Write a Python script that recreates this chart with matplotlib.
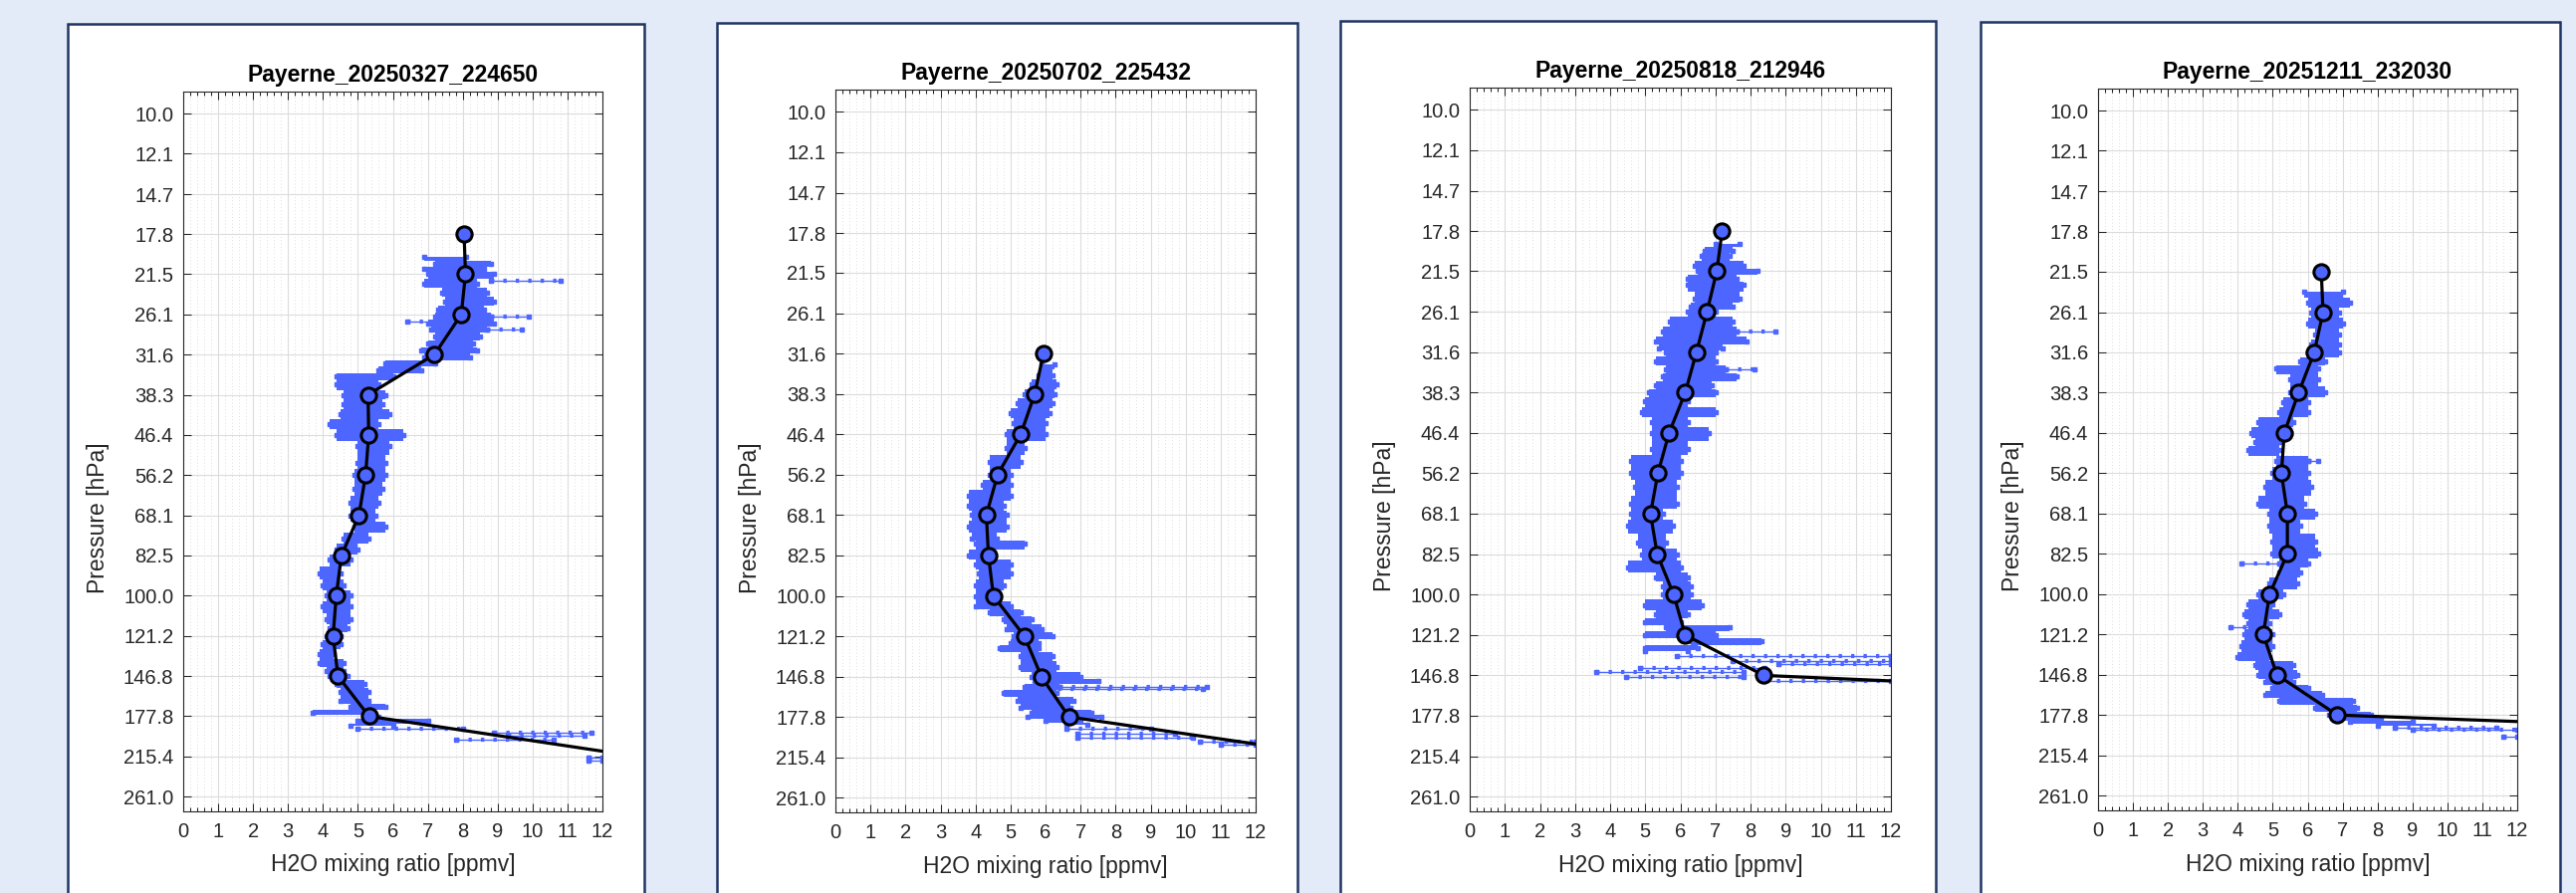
import matplotlib.pyplot as plt
import matplotlib.ticker as mticker
from matplotlib.patches import Rectangle

plt.rcParams['font.family'] = ['Liberation Sans', 'DejaVu Sans']

W, H = 2587, 897
BLUE = '#4D66FF'
INK = '#262626'

titles = ['Payerne_20250327_224650', 'Payerne_20250702_225432',
          'Payerne_20250818_212946', 'Payerne_20251211_232030']
p_ticks = [10.0, 12.1, 14.7, 17.8, 21.5, 26.1, 31.6, 38.3, 46.4, 56.2,
           68.1, 82.5, 100.0, 121.2, 146.8, 177.8, 215.4, 261.0]
x_ticks = [0, 1, 2, 3, 4, 5, 6, 7, 8, 9, 10, 11, 12]

# ---- panel 1 : 2025-03-27 ----
p1_band_p = [19.8, 20.5, 21.0, 21.5, 22.5, 23.5, 24.5, 25.5, 26.3, 27.2, 28.0, 29.0,
             30.0, 31.0, 32.0, 33.0, 34.0, 35.0, 36.5, 38.3, 40.0, 42.0, 44.0, 46.4,
             49.0, 53.0, 56.2, 60.0, 64.0, 68.1, 72.0, 76.0, 80.0, 84.0, 90.0, 95.0,
             100.0, 105.0, 112.0, 117.0, 121.2, 126.0, 132.0, 138.0, 143.0, 146.8,
             152.0, 158.0, 165.0, 170.0, 174.5, 178.5, 182.0, 186.0]
p1_band_lo = [6.9, 7.2, 6.9, 7.0, 6.9, 7.4, 7.5, 7.3, 7.2, 7.0, 7.1, 7.2,
              7.0, 6.8, 6.9, 5.8, 5.6, 4.4, 4.4, 4.6, 4.6, 4.5, 4.2, 4.4,
              5.0, 5.0, 4.9, 4.9, 4.8, 4.8, 4.9, 4.6, 4.4, 4.2, 3.9, 4.0,
              4.1, 4.0, 4.1, 4.2, 4.1, 4.0, 3.9, 3.9, 4.1, 4.2,
              4.4, 4.5, 4.5, 4.8, 3.7, 5.2, 5.0, 4.8]
p1_band_hi = [8.1, 8.8, 8.6, 8.9, 8.4, 8.7, 8.9, 8.6, 8.8, 8.9, 8.7, 8.5,
              8.3, 8.4, 8.2, 7.2, 6.8, 6.0, 5.6, 5.8, 5.7, 5.9, 5.6, 6.3,
              5.9, 5.8, 5.8, 5.7, 5.6, 5.5, 5.8, 5.3, 5.0, 4.8, 4.5, 4.6,
              4.8, 4.8, 4.8, 4.7, 4.5, 4.5, 4.3, 4.6, 4.6, 4.7,
              5.2, 5.3, 5.3, 5.8, 5.3, 5.6, 7.0, 6.0]
p1_streak_p = [22.2, 26.4, 27.0, 28.0, 189.0, 192.0, 195.0, 199.0, 217.0, 220.0]
p1_streak_lo = [8.8, 8.8, 6.4, 8.7, 5.0, 8.9, 9.3, 7.8, 11.6, 11.6]
p1_streak_hi = [10.8, 9.9, 7.2, 9.7, 8.0, 11.7, 11.5, 10.6, 12.0, 12.0]
p1_bin_p = [17.8, 21.5, 26.1, 31.6, 38.3, 46.4, 56.2, 68.1, 82.5, 100.0, 121.2, 146.8, 177.8, 215.4]
p1_bin_x = [8.04, 8.08, 7.96, 7.19, 5.29, 5.31, 5.22, 5.03, 4.53, 4.38, 4.29, 4.43, 5.32, 13.0]

# ---- panel 2 : 2025-07-02 ----
p2_band_p = [33.2, 35.0, 36.5, 38.3, 40.0, 42.0, 44.0, 46.4, 49.5, 53.0, 56.2, 59.0,
             62.0, 65.0, 68.1, 72.0, 76.0, 78.0, 82.5, 86.0, 90.0, 95.0, 100.0, 105.0,
             108.0, 112.0, 117.0, 121.2, 125.0, 128.0, 133.0, 140.0, 146.8, 150.0,
             154.0, 159.0, 165.0, 170.0, 174.0, 177.8, 181.0, 185.0]
p2_band_lo = [5.9, 5.8, 5.6, 5.4, 5.2, 5.0, 5.1, 4.9, 4.9, 4.4, 4.4, 4.2,
              3.8, 3.8, 3.9, 3.8, 3.9, 4.0, 3.8, 4.0, 4.1, 4.0, 4.0, 4.0,
              4.4, 4.8, 4.9, 5.1, 5.0, 4.7, 5.3, 5.3, 5.6, 5.7,
              5.4, 4.8, 5.2, 5.3, 5.6, 5.5, 6.0, 6.6]
p2_band_hi = [6.25, 6.2, 6.3, 6.25, 6.2, 6.1, 6.0, 6.0, 5.4, 5.3, 5.0, 5.0,
              5.0, 4.8, 4.9, 4.9, 4.6, 5.4, 4.5, 5.0, 5.0, 4.8, 4.6, 5.0,
              5.3, 5.6, 5.9, 6.2, 5.8, 5.8, 6.2, 6.3, 7.0, 7.5,
              6.4, 6.3, 6.8, 6.7, 7.3, 7.6, 7.0, 7.2]
p2_streak_p = [154.0, 156.0, 188.0, 193.0, 196.0, 200.0, 203.0]
p2_streak_lo = [6.4, 6.0, 6.6, 6.9, 6.9, 10.4, 11.0]
p2_streak_hi = [10.6, 10.5, 9.0, 9.7, 10.2, 12.0, 12.0]
p2_bin_p = [31.6, 38.3, 46.4, 56.2, 68.1, 82.5, 100.0, 121.2, 146.8, 177.8, 215.4]
p2_bin_x = [5.94, 5.69, 5.29, 4.63, 4.31, 4.37, 4.51, 5.40, 5.88, 6.67, 14.6]

# ---- panel 3 : 2025-08-18 ----
p3_band_p = [18.9, 19.5, 20.0, 21.0, 21.5, 22.3, 23.0, 24.5, 25.5, 26.1, 27.3, 28.7,
             30.0, 31.0, 31.6, 33.0, 34.3, 35.5, 37.0, 38.3, 40.0, 42.0, 44.0, 46.4,
             50.0, 53.0, 56.2, 60.0, 65.0, 68.1, 72.0, 78.0, 82.5, 88.0, 92.0, 96.0,
             100.0, 105.0, 110.0, 114.0, 117.0, 121.2, 125.0, 129.0, 131.0]
p3_band_lo = [7.0, 6.7, 6.6, 6.4, 6.5, 6.2, 6.2, 6.4, 6.3, 6.2, 5.7, 5.5,
              5.3, 5.4, 5.6, 5.3, 5.6, 5.5, 5.3, 5.1, 5.0, 4.9, 5.2, 5.2,
              5.2, 4.6, 4.6, 4.7, 4.6, 4.6, 4.5, 4.8, 4.9, 4.5, 5.3, 5.5,
              5.5, 5.0, 5.3, 5.0, 5.6, 5.0, 6.3, 5.0, 5.0]
p3_band_hi = [7.7, 7.5, 7.4, 7.8, 8.2, 7.6, 7.8, 7.7, 7.5, 7.0, 7.5, 7.6,
              7.9, 7.2, 7.0, 7.0, 7.3, 7.6, 6.9, 7.0, 6.2, 7.0, 6.2, 6.8,
              6.2, 6.0, 6.0, 5.9, 5.9, 5.5, 5.8, 5.6, 5.9, 6.0, 6.2, 6.3,
              6.3, 6.6, 6.2, 6.0, 7.4, 7.0, 8.3, 6.5, 6.2]
p3_streak_p = [28.7, 34.3, 134.0, 137.0, 139.0, 142.0, 144.5, 148.0, 150.5]
p3_streak_lo = [7.6, 7.3, 5.9, 7.5, 8.8, 4.85, 3.6, 4.45, 8.4]
p3_streak_hi = [8.7, 8.1, 12.0, 12.0, 12.0, 8.4, 7.8, 7.8, 12.0]
p3_bin_p = [17.8, 21.5, 26.1, 31.6, 38.3, 46.4, 56.2, 68.1, 82.5, 100.0, 121.2, 146.8, 177.8]
p3_bin_x = [7.19, 7.04, 6.76, 6.46, 6.14, 5.68, 5.36, 5.15, 5.34, 5.81, 6.14, 8.38, 35.0]

# ---- panel 4 : 2025-12-11 ----
p4_band_p = [23.7, 25.0, 26.1, 27.5, 29.0, 30.5, 31.6, 33.0, 34.1, 36.0, 38.3, 40.0,
             42.0, 44.0, 46.4, 48.5, 50.4, 53.0, 56.2, 60.0, 65.0, 68.1, 72.0, 78.0,
             82.5, 86.3, 90.0, 95.0, 100.0, 105.0, 110.0, 115.0, 120.8, 128.0, 135.0,
             140.0, 146.8, 152.0, 156.0, 161.5, 166.0, 172.0, 177.8, 181.0, 184.0, 187.0]
p4_band_lo = [5.9, 6.0, 6.1, 6.0, 6.2, 6.1, 6.0, 5.8, 5.1, 5.5, 5.5, 5.3,
              5.2, 4.6, 4.4, 4.5, 4.3, 5.1, 5.0, 4.8, 4.6, 4.9, 4.9, 5.0,
              5.0, 5.2, 5.2, 4.9, 4.6, 4.3, 4.2, 4.3, 4.2, 4.1, 4.0,
              4.5, 4.6, 4.8, 5.0, 4.8, 5.2, 6.2, 6.6, 6.8, 7.2, 8.0]
p4_band_hi = [7.0, 7.2, 6.9, 7.0, 6.9, 6.9, 6.9, 6.5, 6.3, 6.3, 6.5, 6.0,
              6.0, 5.6, 5.5, 5.2, 5.2, 6.0, 6.0, 6.1, 5.9, 6.2, 5.8, 6.2,
              6.3, 6.0, 5.8, 5.7, 5.3, 5.0, 5.2, 4.9, 5.0, 5.0, 4.9,
              5.6, 5.7, 5.6, 6.0, 6.4, 7.3, 7.4, 7.8, 8.1, 9.0, 9.6]
p4_streak_p = [53.0, 86.3, 117.0, 189.0, 191.0, 197.0]
p4_streak_lo = [6.0, 4.1, 3.8, 8.5, 9.0, 11.6]
p4_streak_hi = [6.3, 5.2, 4.6, 11.4, 12.0, 12.0]
p4_bin_p = [21.5, 26.1, 31.6, 38.3, 46.4, 56.2, 68.1, 82.5, 100.0, 121.2, 146.8, 177.8, 215.4]
p4_bin_x = [6.39, 6.44, 6.19, 5.74, 5.33, 5.25, 5.42, 5.42, 4.91, 4.73, 5.12, 6.85, 38.7]

panels = [
    (p1_band_p, p1_band_lo, p1_band_hi, p1_streak_p, p1_streak_lo, p1_streak_hi, p1_bin_p, p1_bin_x),
    (p2_band_p, p2_band_lo, p2_band_hi, p2_streak_p, p2_streak_lo, p2_streak_hi, p2_bin_p, p2_bin_x),
    (p3_band_p, p3_band_lo, p3_band_hi, p3_streak_p, p3_streak_lo, p3_streak_hi, p3_bin_p, p3_bin_x),
    (p4_band_p, p4_band_lo, p4_band_hi, p4_streak_p, p4_streak_lo, p4_streak_hi, p4_bin_p, p4_bin_x),
]

# card (left, top, right) and axes (left, top, right, bottom) in pixels
cards = [(68, 24, 647), (720, 23, 1303), (1346, 21, 1944), (1989, 22, 2571)]
boxes = [(184, 92, 605, 815), (839, 90, 1261, 816), (1476, 88, 1899, 815), (2107, 89, 2528, 814)]

fig = plt.figure(figsize=(W / 100, H / 100), dpi=100, facecolor='#E4EBF8')

for (cl, ct, cr) in cards:
    fig.add_artist(Rectangle((cl / W, -0.05), (cr - cl) / W, (H - ct) / H + 0.05,
                             transform=fig.transFigure, facecolor='white',
                             edgecolor='#1F3563', lw=1.8, zorder=0))

for i, (bp, blo, bhi, sp, slo, shi, gp, gx) in enumerate(panels):
    l, t, r, b = boxes[i]
    ax = fig.add_axes([l / W, (H - b) / H, (r - l) / W, (b - t) / H])
    ax.set_facecolor('white')

    ax.fill_betweenx(bp, blo, bhi, step='mid', color=BLUE, lw=0, zorder=2)
    ax.plot(blo, bp, 's', ms=2.6, color=BLUE, zorder=2)
    ax.plot(bhi, bp, 's', ms=2.6, color=BLUE, zorder=2)
    for p, x0, x1 in zip(sp, slo, shi):
        ax.plot([x0, x1], [p, p], '-', color=BLUE, lw=1.0, zorder=2)
        ax.plot([x0, x1], [p, p], color=BLUE, lw=3, ls=(0, (0.8, 2.2)),
                dash_capstyle='butt', zorder=2)
        ax.plot([x0, x1], [p, p], 's', ms=2.6, color=BLUE, zorder=2)

    ax.plot(gx, gp, '-o', color='black', lw=2.3, ms=11, mfc=BLUE, mec='black',
            mew=2.2, zorder=4)

    ax.set_yscale('log')
    ax.set_ylim(280, 9.0)
    ax.set_xlim(0, 12)
    ax.yaxis.set_major_locator(mticker.FixedLocator(p_ticks))
    ax.yaxis.set_minor_locator(mticker.NullLocator())
    ax.yaxis.set_major_formatter(mticker.FixedFormatter([f'{v:.1f}' for v in p_ticks]))
    ax.set_xticks(x_ticks)
    ax.xaxis.set_minor_locator(mticker.MultipleLocator(0.2))

    ax.grid(which='major', color='#DCDCDC', lw=0.8, zorder=0)
    ax.grid(which='minor', axis='x', color='#D2D2D2', lw=0.6, ls=(0, (1, 3)), zorder=0)
    ax.set_axisbelow(True)

    ax.tick_params(which='both', direction='in', top=True, right=True, colors=INK,
                   labelsize=14.5, width=0.75)
    ax.tick_params(which='major', length=6)
    ax.tick_params(which='minor', length=3)
    ax.tick_params(axis='x', pad=8)
    ax.tick_params(axis='y', pad=7)
    for s in ax.spines.values():
        s.set_color(INK)
        s.set_linewidth(0.8)

    ax.set_title(titles[i], fontsize=16.5, fontweight='bold', color='black', pad=7)
    ax.set_xlabel('H2O mixing ratio [ppmv]', fontsize=16.5, color=INK)
    ax.xaxis.set_label_coords(0.5, -0.0587)
    ax.set_ylabel('Pressure [hPa]', fontsize=16.5, color=INK)
    ax.yaxis.set_label_coords(-0.176, 0.408)

fig.savefig('out.png', dpi=100, facecolor=fig.get_facecolor())
